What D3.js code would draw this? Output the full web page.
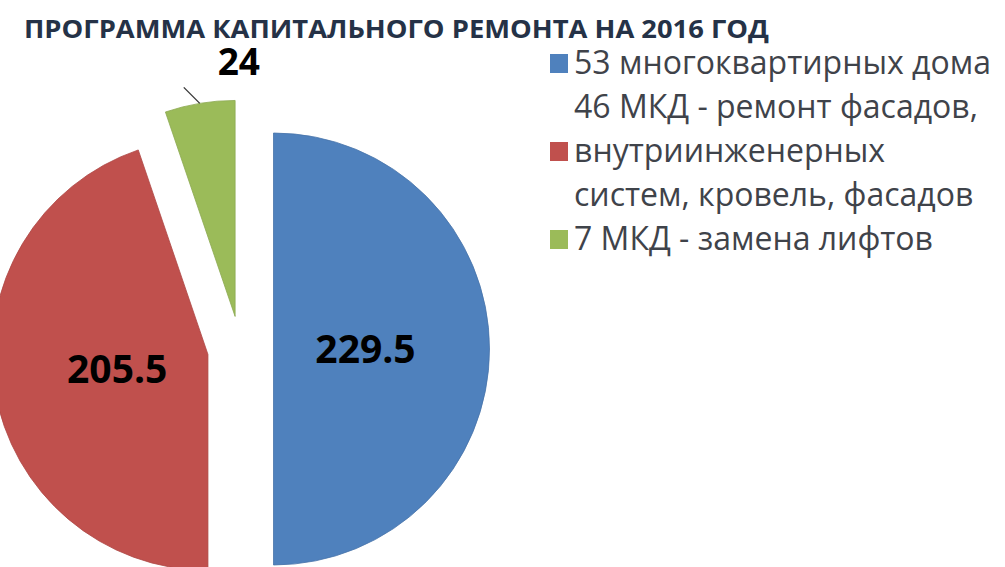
<!DOCTYPE html>
<html>
<head>
<meta charset="utf-8">
<script src="https://cdn.jsdelivr.net/npm/d3@7/dist/d3.min.js"></script>
<style>
  html, body { margin: 0; padding: 0; background: #ffffff; }
  svg { display: block; }
</style>
</head>
<body>
<svg id="chart" width="1005" height="567"></svg>
<script>
// Capital repair programme 2016 — amounts per work type
const categories = [
  "53 многоквартирных дома 46 МКД - ремонт фасадов, внутриинженерных систем, кровель, фасадов",
  "внутриинженерных систем, кровель, фасадов",
  "7 МКД - замена лифтов"
];
const values = [229.5, 205.5, 24];
const valueLabels = ["229.5", "205.5", "24"];
const colors = ["#4F81BD", "#C0504D", "#9BBB59"];

// Legend lines: which series each line belongs to (marker shown on first line only)
const legendLines = [
  { text: "53 многоквартирных дома", series: 0, marker: true },
  { text: "46 МКД - ремонт фасадов,", series: 0, marker: false },
  { text: "внутриинженерных", series: 1, marker: true },
  { text: "систем, кровель, фасадов", series: 1, marker: false },
  { text: "7 МКД - замена лифтов", series: 2, marker: true }
];

const title = "ПРОГРАММА КАПИТАЛЬНОГО РЕМОНТА НА 2016 ГОД";

const svg = d3.select("#chart");
const font = "'Open Sans', 'DejaVu Sans', sans-serif";

// Title
svg.append("text")
  .attr("x", 24)
  .attr("y", 38)
  .attr("font-family", font)
  .attr("font-weight", 700)
  .attr("font-size", 25)
  .attr("fill", "#253247")
  .attr("textLength", 745)
  .attr("lengthAdjust", "spacingAndGlyphs")
  .text(title);

// Pie geometry
const cx = 240.5, cy = 349, radius = 216, explode = 33;

const pie = d3.pie().sort(null).value(d => d)(values);
const arc = d3.arc().innerRadius(0).outerRadius(radius);
const labelArc = d3.arc().innerRadius(92).outerRadius(92);
const edgeArc = d3.arc().innerRadius(radius).outerRadius(radius);

const g = svg.append("g").attr("transform", `translate(${cx},${cy})`);

function offset(d) {
  const a = (d.startAngle + d.endAngle) / 2;
  return [Math.sin(a) * explode, -Math.cos(a) * explode];
}

const slices = g.selectAll("g.slice")
  .data(pie)
  .join("g")
  .attr("class", "slice")
  .attr("transform", d => { const o = offset(d); return `translate(${o[0]},${o[1]})`; });

slices.append("path")
  .attr("d", arc)
  .attr("fill", (d, i) => colors[i])
  .attr("stroke", (d, i) => d3.color(colors[i]).darker(0.3))
  .attr("stroke-width", 0.8);

// Inside labels for the large slices
slices.filter((d, i) => i < 2)
  .append("text")
  .attr("transform", d => `translate(${labelArc.centroid(d)})`)
  .attr("text-anchor", "middle")
  .attr("dy", "0.36em")
  .attr("font-family", font)
  .attr("font-weight", 700)
  .attr("font-size", 39)
  .attr("fill", "#000")
  .text((d, i) => valueLabels[i]);

// Outside label with leader line for the small slice
const small = slices.filter((d, i) => i === 2);
small.each(function(d) {
  const sel = d3.select(this);
  const p = edgeArc.centroid(d);
  const q = [p[0] - 16, p[1] - 16];
  sel.append("line")
    .attr("x1", p[0]).attr("y1", p[1])
    .attr("x2", q[0]).attr("y2", q[1])
    .attr("stroke", "#333")
    .attr("stroke-width", 1.3);
  sel.append("text")
    .attr("x", p[0] + 39)
    .attr("y", p[1] - 28)
    .attr("text-anchor", "middle")
    .attr("font-family", font)
    .attr("font-weight", 700)
    .attr("font-size", 37)
    .attr("fill", "#000")
    .text(valueLabels[2]);
});

// Legend
const legend = svg.append("g").attr("transform", "translate(550,74)");
const lineH = 44;
legendLines.forEach((l, i) => {
  const y = i * lineH;
  if (l.marker) {
    legend.append("rect")
      .attr("x", 0).attr("y", y - 20)
      .attr("width", 18).attr("height", 19)
      .attr("fill", colors[l.series]);
  }
  legend.append("text")
    .attr("x", 24).attr("y", y)
    .attr("font-family", font)
    .attr("font-size", 32)
    .attr("fill", "#3f434a")
    .text(l.text);
});
</script>
</body>
</html>
